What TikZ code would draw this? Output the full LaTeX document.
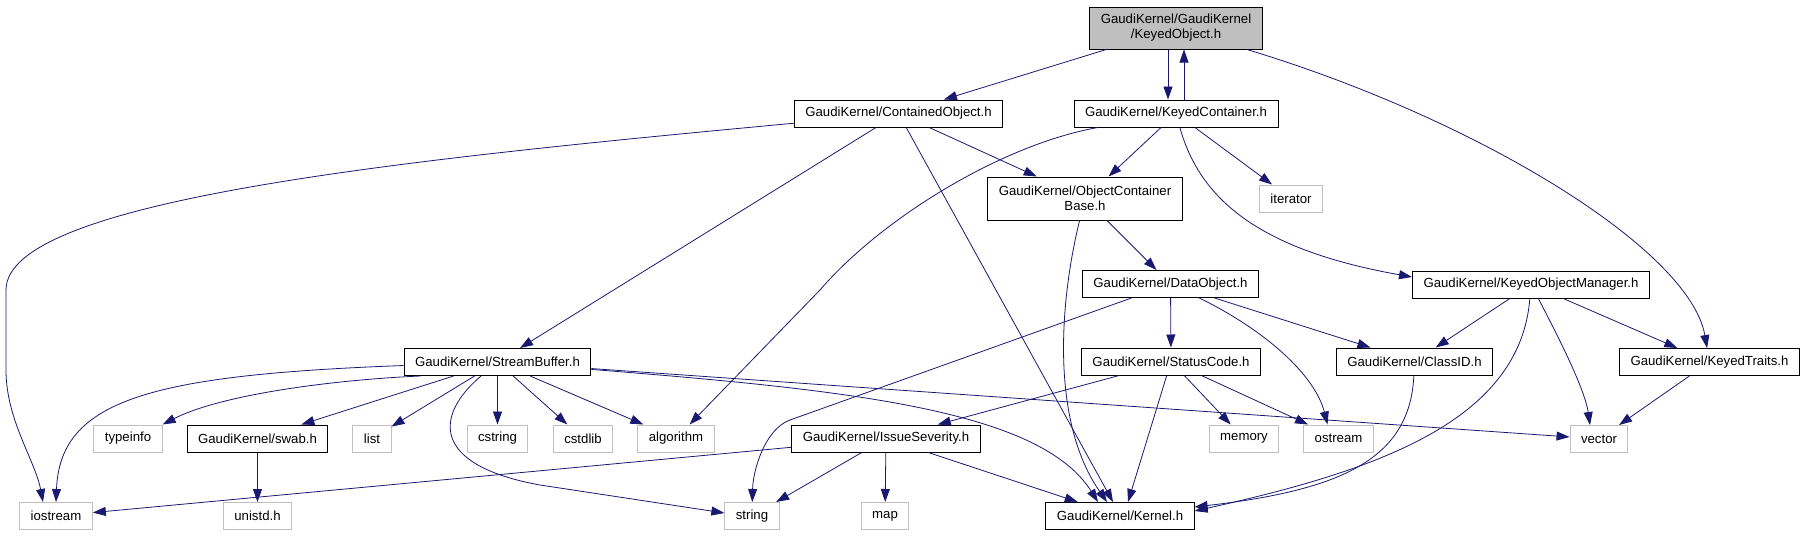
\documentclass[tikz,border=0pt]{standalone}
\usepackage{fontspec}
\setmainfont{Liberation Sans}
\usetikzlibrary{arrows.meta}
\definecolor{edgeblue}{HTML}{191970}
\definecolor{boxgrey}{HTML}{BFBFBF}

\begin{document}
\begin{tikzpicture}[x=1pt,y=-1pt,
  hfile/.style={draw=black,line width=1pt,rectangle,inner xsep=11pt,inner ysep=2pt,minimum height=27pt,align=center,font=\fontsize{13.2}{15}\selectfont},
  sysfile/.style={hfile,draw=boxgrey},
  incl/.style={draw=edgeblue,line width=0.8pt,-{Triangle[length=13pt,width=9pt]}}]
\useasboundingbox (0,0) rectangle (1805,536);

\node [hfile,fill=boxgrey,minimum height=42pt] (ko) at(1176,28){GaudiKernel/GaudiKernel\\/KeyedObject.h};
\node [hfile] (co) at(898.5,113.5){GaudiKernel/ContainedObject.h};
\node [hfile] (kc) at(1176,113.5){GaudiKernel/KeyedContainer.h};
\node [hfile,minimum height=43pt] (ocb) at(1085,198.5){GaudiKernel/ObjectContainer\\Base.h};
\node [sysfile] (iterator) at(1291,198.5){iterator};
\node [hfile] (dobj) at(1170.5,284){GaudiKernel/DataObject.h};
\node [hfile] (kom) at(1531,284.5){GaudiKernel/KeyedObjectManager.h};
\node [hfile] (sb) at(497.5,362){GaudiKernel/StreamBuffer.h};
\node [hfile] (sc) at(1171,361.5){GaudiKernel/StatusCode.h};
\node [hfile] (cid) at(1414.5,361.5){GaudiKernel/ClassID.h};
\node [hfile] (kt) at(1709.5,362){GaudiKernel/KeyedTraits.h};
\node [sysfile] (typeinfo) at(128,438.5){typeinfo};
\node [hfile] (swab) at(257.5,438.5){GaudiKernel/swab.h};
\node [sysfile] (list) at(372,438.5){list};
\node [sysfile] (cstring) at(497.5,438.5){cstring};
\node [sysfile] (cstdlib) at(583,438.5){cstdlib};
\node [sysfile] (algorithm) at(676,438.5){algorithm};
\node [hfile] (is) at(886,438.5){GaudiKernel/IssueSeverity.h};
\node [sysfile] (memory) at(1244,438.5){memory};
\node [sysfile] (ostream) at(1338.5,438.5){ostream};
\node [sysfile] (vector) at(1599,439){vector};
\node [sysfile] (iostream) at(56,516){iostream};
\node [sysfile] (unistd) at(257.5,516){unistd.h};
\node [sysfile] (string) at(752,516){string};
\node [sysfile] (map) at(885,516){map};
\node [hfile] (kernel) at(1120,516){GaudiKernel/Kernel.h};

% KeyedObject.h
\draw[incl](ko) -- (co);
\draw[incl]([xshift=-8pt]ko.south) -- ([xshift=-8pt]kc.north);
\draw[incl]([xshift=8pt]kc.north) -- ([xshift=8pt]ko.south);
\draw[incl](ko) .. controls (1480,120) and (1690,250) .. (kt);

% ContainedObject.h
\draw[incl](co) .. controls (400,160) and (6,200) .. (6,290) -- (6,370) .. controls (6,420) and (35,460) .. ([xshift=-13pt]iostream.north);
\draw[incl](co) -- (sb);
\draw[incl](co) -- ([xshift=-7pt]kernel.north);
\draw[incl](co) -- (ocb);

% KeyedContainer.h
\draw[incl](kc) .. controls (1000,145) and (880,220) .. (820,290) -- (algorithm);
\draw[incl](kc) -- (ocb);
\draw[incl](kc) -- (iterator);
\draw[incl](kc) .. controls (1200,200) and (1260,250) .. ([yshift=7.5pt]kom.west);

% ObjectContainerBase.h
\draw[incl](ocb) .. controls (1060,300) and (1050,420) .. ([xshift=-13pt]kernel.north);
\draw[incl](ocb) -- (dobj);

% DataObject.h
\draw[incl](dobj) -- (790,420) .. controls (765,429) and (753,470) .. (string);
\draw[incl](dobj) -- (sc);
\draw[incl](dobj) .. controls (1265,330) and (1315,375) .. ([xshift=-11pt]ostream.north);
\draw[incl](dobj) -- (cid);

% KeyedObjectManager.h
\draw[incl](kom) -- (cid);
\draw[incl](kom) .. controls (1520,420) and (1380,470) .. ([yshift=5pt]kernel.east);
\draw[incl](kom) .. controls (1560,340) and (1585,390) .. ([xshift=-9pt]vector.north);
\draw[incl](kom) -- (kt);

\draw[incl](kt) -- (vector);
\draw[incl](cid) .. controls (1410,460) and (1340,490) .. ([yshift=9pt]kernel.east);

% StatusCode.h
\draw[incl](sc) -- (is);
\draw[incl](sc) -- ([xshift=8pt]kernel.north);
\draw[incl](sc) -- (memory);
\draw[incl](sc) -- (ostream);

% IssueSeverity.h
\draw[incl](is) -- (iostream);
\draw[incl](is) -- (string);
\draw[incl](is) -- (map);
\draw[incl](is) -- (kernel);

\draw[incl](swab) -- (unistd);

% StreamBuffer.h
\draw[incl](sb) .. controls (150,375) and (60,400) .. (iostream.north);
\draw[incl]([xshift=-77pt]sb.south) .. controls (330,380) and (220,395) .. (typeinfo.north east);
\draw[incl](sb) -- (swab);
\draw[incl](sb) -- (list);
\draw[incl](sb) -- (cstring);
\draw[incl](sb) -- (cstdlib);
\draw[incl](sb) -- (algorithm);
\draw[incl](sb) .. controls (435,415) and (430,465) .. (540,485) -- ([yshift=3pt]string.west);
\draw[incl](sb) .. controls (850,390) and (1040,410) .. ([xshift=-22pt]kernel.north);
\draw[incl](sb) -- (vector);

\end{tikzpicture}
\end{document}
